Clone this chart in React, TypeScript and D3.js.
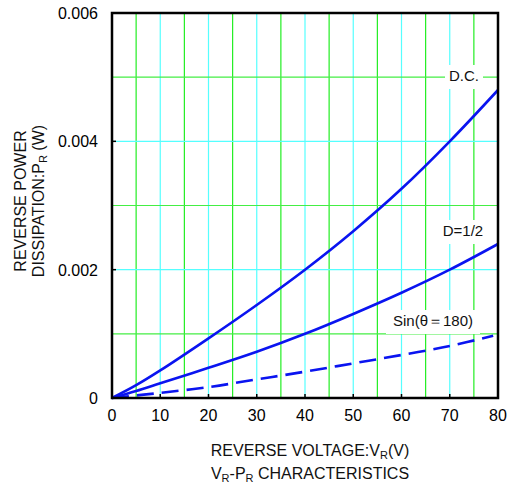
import { useEffect, useRef } from "react";
import * as d3 from "d3";

// voltages (V)
const voltages = [0, 5, 10, 20, 30, 40, 50, 60, 70, 80];
const dcValues = [0, 0.0002, 0.00043, 0.00093, 0.00145, 0.002, 0.0026, 0.00326, 0.004, 0.0048];
const halfValues = [0, 0.00011, 0.00023, 0.00047, 0.00072, 0.001, 0.00131, 0.00164, 0.002, 0.0024];
const sinVoltages = [0, 5, 10, 20, 30, 40, 50, 60, 70, 79];
const sinValues = [0, 0.00004, 0.00008, 0.00017, 0.00029, 0.00041, 0.00054, 0.00067, 0.00081, 0.00097];

const xTicks = [0, 10, 20, 30, 40, 50, 60, 70, 80];
const yTicks = [0, 0.002, 0.004, 0.006];
const yTickLabels = ["0", "0.002", "0.004", "0.006"];

const FONT = "'Liberation Sans', Arial, sans-serif";

export default function App() {
  const ref = useRef<SVGSVGElement | null>(null);

  useEffect(() => {
    if (!ref.current) return;
    const svg = d3.select(ref.current);
    svg.selectAll("*").remove();

    const left = 112, right = 498, top = 13, bottom = 398;
    const x = d3.scaleLinear().domain([0, 80]).range([left, right]);
    const y = d3.scaleLinear().domain([0, 0.006]).range([bottom, top]);

    // grid
    const grid = svg.append("g");
    d3.range(5, 80, 5).forEach((v) => {
      grid.append("line")
        .attr("x1", x(v)).attr("x2", x(v))
        .attr("y1", top).attr("y2", bottom)
        .attr("stroke", v % 10 === 0 ? "#55ffff" : "#22ee22")
        .attr("stroke-width", 1.2);
    });
    [0.001, 0.002, 0.003, 0.004, 0.005].forEach((v, i) => {
      grid.append("line")
        .attr("x1", left).attr("x2", right)
        .attr("y1", y(v)).attr("y2", y(v))
        .attr("stroke", i % 2 === 1 ? "#55ffff" : "#44ee44")
        .attr("stroke-width", 1.2);
    });

    // curve labels with white boxes
    const labels = [
      { text: "D.C.", x: 464, y: 76, w: 38 },
      { text: "D=1/2", x: 463, y: 231, w: 48 },
      { text: "Sin(θ＝180)", x: 433, y: 321, w: 94 },
    ];
    labels.forEach((l) => {
      svg.append("rect")
        .attr("x", l.x - l.w / 2).attr("y", l.y - 11)
        .attr("width", l.w).attr("height", 24)
        .attr("fill", "white");
      svg.append("text")
        .attr("x", l.x).attr("y", l.y + 5)
        .attr("text-anchor", "middle")
        .attr("font-family", FONT).attr("font-size", 15)
        .attr("fill", "#111")
        .text(l.text);
    });

    const line = d3.line<[number, number]>()
      .x((d) => x(d[0]))
      .y((d) => y(d[1]))
      .curve(d3.curveCatmullRom);

    const curves = [
      { xs: voltages, ys: dcValues, dash: null },
      { xs: voltages, ys: halfValues, dash: null },
      { xs: sinVoltages, ys: sinValues, dash: "17,8" },
    ];
    curves.forEach((c) => {
      svg.append("path")
        .attr("d", line(c.xs.map((v, i) => [v, c.ys[i]] as [number, number])))
        .attr("fill", "none")
        .attr("stroke", "#0a14f0")
        .attr("stroke-width", 2.6)
        .attr("stroke-dasharray", c.dash);
    });

    // frame
    svg.append("path")
      .attr("d", `M${left},${top}H${right}V${bottom}H${left}Z`)
      .attr("fill", "none")
      .attr("stroke", "black")
      .attr("stroke-width", 2.5);

    // ticks (inward)
    xTicks.forEach((v) => {
      svg.append("line")
        .attr("x1", x(v)).attr("x2", x(v))
        .attr("y1", bottom).attr("y2", bottom - 4)
        .attr("stroke", "black").attr("stroke-width", 1.5);
      svg.append("text")
        .attr("x", x(v)).attr("y", 421)
        .attr("text-anchor", "middle")
        .attr("font-family", FONT).attr("font-size", 16)
        .text(v);
    });
    yTicks.forEach((v, i) => {
      svg.append("line")
        .attr("x1", left).attr("x2", left + 4)
        .attr("y1", y(v)).attr("y2", y(v))
        .attr("stroke", "black").attr("stroke-width", 1.5);
      svg.append("text")
        .attr("x", 98).attr("y", y(v) + 6)
        .attr("text-anchor", "end")
        .attr("font-family", FONT).attr("font-size", 16)
        .text(yTickLabels[i]);
    });

    // x title
    const xt = svg.append("text")
      .attr("x", 310).attr("y", 456)
      .attr("text-anchor", "middle")
      .attr("font-family", FONT).attr("font-size", 16)
      .attr("fill", "#111");
    xt.append("tspan").text("REVERSE VOLTAGE:V");
    xt.append("tspan").attr("font-size", 11).attr("dy", 3).text("R");
    xt.append("tspan").attr("dy", -3).text("(V)");

    const xt2 = svg.append("text")
      .attr("x", 310).attr("y", 479)
      .attr("text-anchor", "middle")
      .attr("font-family", FONT).attr("font-size", 16)
      .attr("fill", "#111");
    xt2.append("tspan").text("V");
    xt2.append("tspan").attr("font-size", 11).attr("dy", 3).text("R");
    xt2.append("tspan").attr("dy", -3).text("-P");
    xt2.append("tspan").attr("font-size", 11).attr("dy", 3).text("R");
    xt2.append("tspan").attr("dy", -3).text(" CHARACTERISTICS");

    // y title
    const yt = svg.append("g").attr("transform", "translate(26,201) rotate(-90)");
    yt.append("text")
      .attr("text-anchor", "middle")
      .attr("font-family", FONT).attr("font-size", 16)
      .attr("fill", "#111")
      .text("REVERSE POWER");
    const yt2 = yt.append("text")
      .attr("y", 18)
      .attr("text-anchor", "middle")
      .attr("font-family", FONT).attr("font-size", 16)
      .attr("fill", "#111");
    yt2.append("tspan").text("DISSIPATION:P");
    yt2.append("tspan").attr("font-size", 11).attr("dy", 3).text("R");
    yt2.append("tspan").attr("dy", -3).text(" (W)");
  }, []);

  return (
    <svg
      ref={ref}
      width={508}
      height={488}
      style={{ position: "absolute", left: 0, top: 0, background: "white" }}
    />
  );
}
